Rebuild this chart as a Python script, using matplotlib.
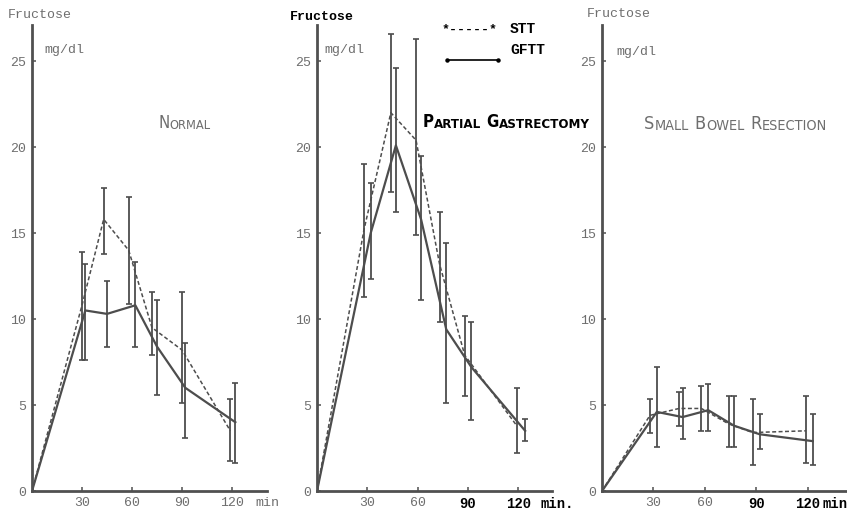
import matplotlib.pyplot as plt
from matplotlib.lines import Line2D
import numpy as np

# Fructose (mg/dl) after sucrose (STT) and glucose+fructose (GFTT) loads.
# Times are where the points sit on the scan (the two series are offset a bit).

# NORMAL
normal_stt_t = [0, 30, 43, 58, 72, 90, 119]
normal_stt = [0, 10.8, 15.8, 14.0, 9.5, 8.2, 3.5]
normal_stt_lo = [np.nan, 7.6, 13.8, 10.9, 7.9, 5.1, 1.75]
normal_stt_hi = [np.nan, 13.9, 17.6, 17.1, 11.6, 11.6, 5.35]
normal_gftt_t = [0, 32, 45, 62, 75, 92, 122]
normal_gftt = [0, 10.5, 10.3, 10.8, 8.4, 6.0, 4.0]
normal_gftt_lo = [np.nan, 7.6, 8.4, 8.4, 5.6, 3.1, 1.65]
normal_gftt_hi = [np.nan, 13.2, 12.2, 13.3, 11.1, 8.6, 6.3]

# PARTIAL GASTRECTOMY
pg_stt_t = [0, 28, 44, 59, 73, 88, 119]
pg_stt = [0, 15.2, 22.0, 20.4, 13.2, 7.9, 3.8]
pg_stt_lo = [np.nan, 11.3, 17.4, 14.9, 9.8, 5.5, 2.2]
pg_stt_hi = [np.nan, 19.0, 26.6, 26.3, 16.2, 10.2, 6.0]
pg_gftt_t = [0, 32, 47, 62, 77, 92, 124]
pg_gftt = [0, 15.0, 20.1, 15.8, 9.4, 7.2, 3.5]
pg_gftt_lo = [np.nan, 12.3, 16.2, 11.1, 5.1, 4.1, 2.9]
pg_gftt_hi = [np.nan, 17.9, 24.6, 19.5, 14.4, 9.8, 4.2]

# SMALL BOWEL RESECTION
sb_stt_t = [0, 28, 45, 58, 74, 88, 119]
sb_stt = [0, 4.4, 4.8, 4.8, 3.9, 3.4, 3.5]
sb_stt_lo = [np.nan, 3.4, 3.8, 3.5, 2.55, 1.5, 1.6]
sb_stt_hi = [np.nan, 5.35, 5.75, 6.1, 5.5, 5.35, 5.5]
sb_gftt_t = [0, 32, 47, 62, 77, 92, 123]
sb_gftt = [0, 4.6, 4.3, 4.7, 3.8, 3.3, 2.9]
sb_gftt_lo = [np.nan, 2.55, 3.0, 3.5, 2.55, 2.45, 1.5]
sb_gftt_hi = [np.nan, 7.2, 6.0, 6.2, 5.5, 4.5, 4.5]

y_ticks = [0, 5, 10, 15, 20, 25]
x_ticks = [30, 60, 90, 120]
x_labels = ["30", "60", "90", "120"]

LINE = "#4d4d4d"
GREY = "#6e6e6e"
MONO = "Liberation Mono"
SANS = ["DejaVu Sans"]

plt.rcParams["font.family"] = MONO

W, H = 847, 515
fig = plt.figure(figsize=(W / 100, H / 100), dpi=100)


def px(x, y):
    """pixel position on the scan -> figure fraction"""
    return x / W, 1 - y / H


def draw_panel(ax, xmax, stt, gftt):
    for (t, m, lo, hi), ls, lw in ((stt, (0, (2.6, 1.6)), 1.1), (gftt, "-", 1.6)):
        m = np.array(m)
        yerr = [m - np.array(lo), np.array(hi) - m]
        ax.plot(t, m, ls=ls, lw=lw, color=LINE)
        ax.errorbar(t, m, yerr=yerr, fmt="none", ecolor=LINE,
                    elinewidth=1.3, capsize=2.2, capthick=1.2)
    ax.set_xlim(0, xmax)
    ax.set_ylim(0, 27.1)
    ax.set_yticks(y_ticks)
    ax.set_xticks(x_ticks)
    ax.set_xticklabels(x_labels)
    for s in ("top", "right"):
        ax.spines[s].set_visible(False)
    for s in ("left", "bottom"):
        ax.spines[s].set_linewidth(2.0)
        ax.spines[s].set_color("#505050")
    ax.tick_params(direction="in", length=3, width=1.1, color="#505050",
                   labelsize=9.5, labelcolor=GREY, pad=4)
    ax.patch.set_visible(False)


def small_caps(x, y, title, big, small, color, weight="normal", gap=3.5):
    """fake small capitals: first letter of each word larger"""
    kw = dict(color=color, fontweight=weight, family=SANS, fontstretch="condensed")
    prev = None
    for i, word in enumerate(title.split(" ")):
        for j, (s, size) in enumerate(((word[0], big), (word[1:], small))):
            if prev is None:
                prev = fig.text(x, y, s, fontsize=size, va="baseline", **kw)
            else:
                off = gap if (j == 0 and i > 0) else 0
                prev = ax1.annotate(s, xy=(1, 0), xycoords=prev, xytext=(off, 0),
                                    textcoords="offset points", va="bottom",
                                    ha="left", fontsize=size, annotation_clip=False, **kw)


bottom, height = 24 / H, 466 / H
ax1 = fig.add_axes([32 / W, bottom, 235 / W, height])
ax2 = fig.add_axes([317 / W, bottom, 235 / W, height])
ax3 = fig.add_axes([602 / W, bottom, 245 / W, height])

draw_panel(ax1, 141, (normal_stt_t, normal_stt, normal_stt_lo, normal_stt_hi),
           (normal_gftt_t, normal_gftt, normal_gftt_lo, normal_gftt_hi))
draw_panel(ax2, 140, (pg_stt_t, pg_stt, pg_stt_lo, pg_stt_hi),
           (pg_gftt_t, pg_gftt, pg_gftt_lo, pg_gftt_hi))
draw_panel(ax3, 143, (sb_stt_t, sb_stt, sb_stt_lo, sb_stt_hi),
           (sb_gftt_t, sb_gftt, sb_gftt_lo, sb_gftt_hi))

# the pasted-in labels on panels 2 and 3 are bold black
for ax in (ax2, ax3):
    for lab in ax.get_xticklabels()[2:]:
        lab.set_fontweight("bold")
        lab.set_color("black")
        lab.set_fontsize(10)

# "min" after the x axis
ax1.text(134, -0.012, "min", transform=ax1.get_xaxis_transform(),
         va="top", ha="left", fontsize=9.5, color=GREY)
ax2.text(133, -0.012, "min.", transform=ax2.get_xaxis_transform(),
         va="top", ha="left", fontsize=10, color="black", fontweight="bold")
ax3.text(129, -0.012, "min", transform=ax3.get_xaxis_transform(),
         va="top", ha="left", fontsize=10, color="black", fontweight="bold")

# axis captions
fig.text(*px(8, 15), "Fructose", fontsize=9.5, color=GREY, va="center")
fig.text(*px(290, 17), "Fructose", fontsize=9.5, color="black",
         fontweight="bold", va="center")
fig.text(*px(587, 14), "Fructose", fontsize=9.5, color=GREY, va="center")
for xx, yy in ((44, 50), (324, 50), (616, 52)):
    fig.text(*px(xx, yy), "mg/dl", fontsize=9.5, color=GREY, va="center")

# panel titles
small_caps(*px(158, 128), "NORMAL", 12, 9.2, GREY)
small_caps(*px(423, 127), "PARTIAL GASTRECTOMY", 12, 9.5, "black", weight="bold")
small_caps(*px(644, 129), "SMALL BOWEL RESECTION", 13, 10.4, GREY, gap=4.5)

# legend (typed on the original)
fig.text(*px(442, 30), "*-----*", fontsize=9.5, fontweight="bold",
         color="black", va="center")
fig.text(*px(510, 29), "STT", fontsize=10.5, fontweight="bold",
         color="black", va="center")
x0, y0 = px(447, 60)
x1, _ = px(498, 60)
fig.add_artist(Line2D([x0, x1], [y0, y0], transform=fig.transFigure,
                      color="black", lw=1.2, marker="o", ms=2.2))
fig.text(*px(510, 50), "GFTT", fontsize=10.5, fontweight="bold",
         color="black", va="center")

fig.savefig("out.png", dpi=100)
